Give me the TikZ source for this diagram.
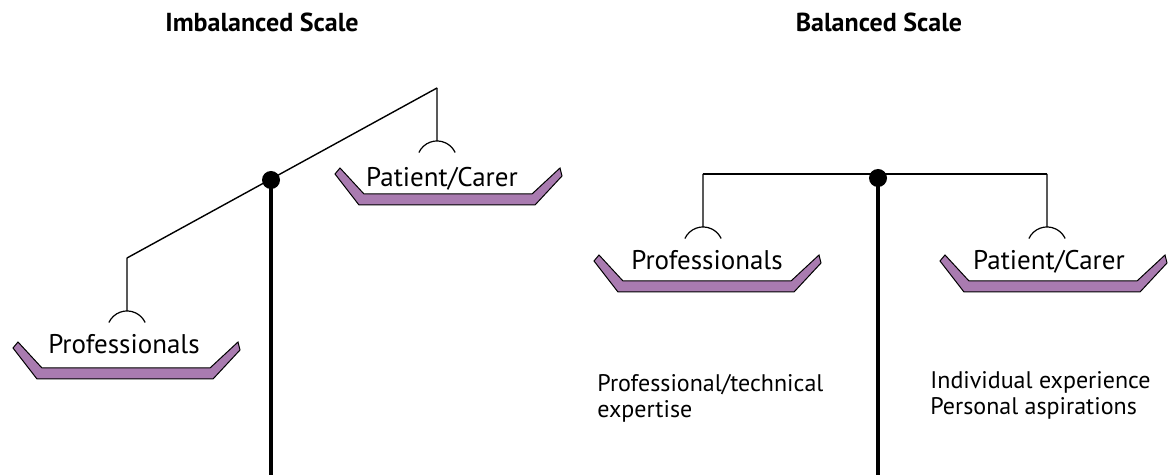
\documentclass[tikz,border=0pt]{standalone}
\usepackage{fontspec}
\setmainfont{PT Sans}
\definecolor{panpurple}{RGB}{169,123,176}
\tikzset{
  beam/.style={line width=0.7pt},
  post/.style={line width=2pt},
  pivot/.style={circle, fill=black, inner sep=0pt, minimum size=9pt},
  panlabel/.style={anchor=base, font=\fontsize{13.5}{15}\selectfont},
  notes/.style={anchor=north west, align=left, inner sep=0pt, font=\fontsize{12}{13}\selectfont},
  heading/.style={anchor=base, font=\bfseries\fontsize{13}{15}\selectfont},
  pan/.pic={\draw[fill=panpurple, line width=0.5pt] (-113,6) -- (-108,0) -- (-84,26) -- (84,26)
      -- (112,0) -- (114,8) -- (87,37) -- (-89,37) -- cycle;},
  hook/.pic={\draw[line width=0.6pt] (0,0) -- (0,53) (-18.1,64.5) arc[start angle=205, end angle=335, radius=20];},
}
\begin{document}
\begin{tikzpicture}[x=0.5pt, y=-0.5pt]
    \useasboundingbox (0,0) rectangle (1172,475);

    % imbalanced scale
    \node[heading] (titleI) at (262,32) {Imbalanced Scale};

    \coordinate (hangIL) at (127,258);
    \coordinate (hangIR) at (437,88);
    \coordinate (footI) at (271,475);
    \draw[beam] (hangIL) -- (hangIR);
    \pic at (hangIL) {hook};
    \pic at (hangIR) {hook};
    \draw[post] (271,180) -- (footI);
    \node[pivot] (pivotI) at (271,180) {};

    \pic at (126,342) {pan};
    \node[panlabel] (profI) at (124,354) {Professionals};
    \pic at (448,168) {pan};
    \node[panlabel] (patI) at (442,187) {Patient/Carer};

    % balanced scale
    \node[heading] (titleB) at (879,32) {Balanced Scale};

    \coordinate (hangBL) at (703,174);
    \coordinate (hangBR) at (1047,174);
    \coordinate (footB) at (878,475);
    \draw[beam] (hangBL) -- (hangBR);
    \pic at (hangBL) {hook};
    \pic at (hangBR) {hook};
    \draw[post] (878,178) -- (footB);
    \node[pivot] (pivotB) at (878,178) {};

    \pic at (707,255) {pan};
    \node[panlabel] (profB) at (707,270) {Professionals};
    \pic at (1053,255) {pan};
    \node[panlabel] (patB) at (1049,270) {Patient/Carer};

    \node[notes] (expertise) at (597,374) {Professional/technical\\expertise};
    \node[notes] (experience) at (930,371) {Individual experience\\Personal aspirations};

\end{tikzpicture}
\end{document}
